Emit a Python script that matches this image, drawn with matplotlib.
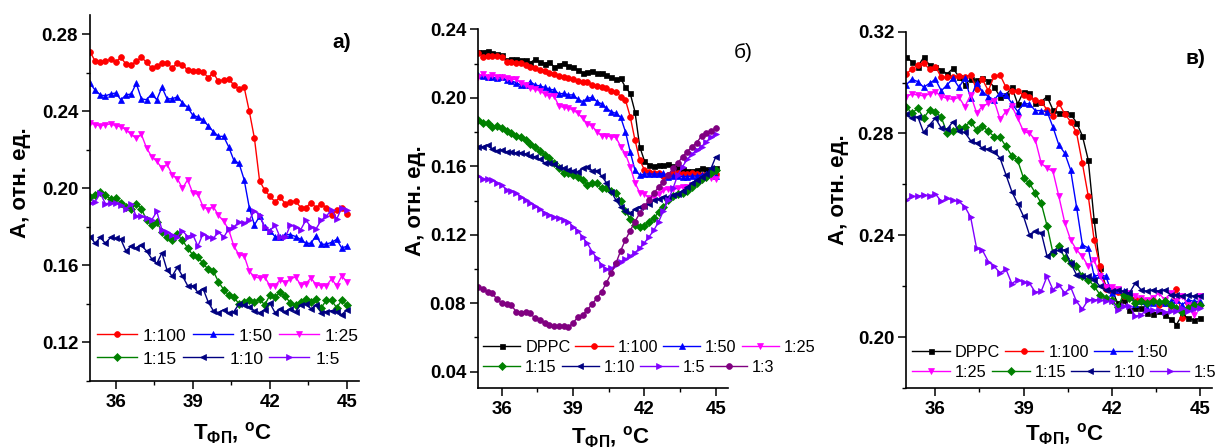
import matplotlib
matplotlib.use('Agg')
import matplotlib.pyplot as plt
from matplotlib.ticker import MultipleLocator

plt.rcParams['font.family'] = ['Liberation Sans', 'DejaVu Sans']
plt.rcParams['mathtext.fontset'] = 'custom'
plt.rcParams['mathtext.rm'] = 'Liberation Sans'
plt.rcParams['mathtext.bf'] = 'Liberation Sans:bold'
plt.rcParams['mathtext.it'] = 'Liberation Sans:italic'

# ---------------- data ----------------
T = [35.0, 35.2, 35.4, 35.6, 35.8, 36.0, 36.2, 36.4, 36.6, 36.8,
     37.0, 37.2, 37.4, 37.6, 37.8, 38.0, 38.2, 38.4, 38.6, 38.8,
     39.0, 39.2, 39.4, 39.6, 39.8, 40.0, 40.2, 40.4, 40.6, 40.8,
     41.0, 41.2, 41.4, 41.6, 41.8, 42.0, 42.2, 42.4, 42.6, 42.8,
     43.0, 43.2, 43.4, 43.6, 43.8, 44.0, 44.2, 44.4, 44.6, 44.8, 45.0]

x_ticks = [36, 39, 42, 45]

# panel a)
a_100 = [0.271, 0.266, 0.2655, 0.266, 0.267, 0.2655, 0.268, 0.2645, 0.264, 0.266,
         0.268, 0.2655, 0.2625, 0.2635, 0.265, 0.265, 0.2625, 0.265, 0.264, 0.2615,
         0.261, 0.261, 0.2605, 0.2575, 0.260, 0.2555, 0.2565, 0.257, 0.2535, 0.2515,
         0.2525, 0.240, 0.226, 0.204, 0.199, 0.196, 0.193, 0.1955, 0.192, 0.193,
         0.1935, 0.190, 0.190, 0.1925, 0.190, 0.192, 0.190, 0.186, 0.189, 0.190, 0.1865]
a_50 = [0.2545, 0.251, 0.2485, 0.248, 0.249, 0.2495, 0.246, 0.2485, 0.249, 0.2545,
        0.2465, 0.246, 0.249, 0.246, 0.2525, 0.2465, 0.2465, 0.2475, 0.2445, 0.242,
        0.238, 0.237, 0.2355, 0.2325, 0.2295, 0.227, 0.227, 0.2215, 0.2145, 0.213,
        0.2045, 0.190, 0.181, 0.1855, 0.180, 0.178, 0.175, 0.1745, 0.176, 0.176,
        0.175, 0.1735, 0.1715, 0.1715, 0.1755, 0.171, 0.171, 0.172, 0.1735, 0.169, 0.170]
a_25 = [0.234, 0.233, 0.2325, 0.233, 0.2335, 0.2325, 0.232, 0.2305, 0.228, 0.226,
        0.228, 0.221, 0.2165, 0.214, 0.2105, 0.2125, 0.207, 0.205, 0.200, 0.2045,
        0.1975, 0.197, 0.1905, 0.189, 0.1905, 0.186, 0.183, 0.1785, 0.170, 0.1655,
        0.165, 0.157, 0.154, 0.1535, 0.154, 0.1495, 0.1495, 0.1525, 0.151, 0.153,
        0.154, 0.150, 0.1505, 0.1535, 0.150, 0.1495, 0.1495, 0.153, 0.1495, 0.1545, 0.1515]
a_15 = [0.1955, 0.1965, 0.198, 0.1965, 0.1945, 0.195, 0.1925, 0.1905, 0.1895, 0.192,
        0.1895, 0.1835, 0.181, 0.1825, 0.1775, 0.175, 0.173, 0.1765, 0.173, 0.169,
        0.1655, 0.1645, 0.161, 0.158, 0.157, 0.1515, 0.1475, 0.1445, 0.1435, 0.140,
        0.141, 0.142, 0.141, 0.1425, 0.1395, 0.1445, 0.1435, 0.146, 0.144, 0.1405,
        0.1395, 0.141, 0.1425, 0.141, 0.1425, 0.138, 0.142, 0.142, 0.138, 0.142, 0.1395]
a_10 = [0.175, 0.1715, 0.1745, 0.1715, 0.1745, 0.174, 0.1735, 0.1675, 0.170, 0.169,
        0.1705, 0.1675, 0.1635, 0.161, 0.1665, 0.1575, 0.1545, 0.159, 0.1545, 0.1495,
        0.1495, 0.146, 0.148, 0.141, 0.1365, 0.1355, 0.137, 0.1355, 0.136, 0.140,
        0.1395, 0.1385, 0.1365, 0.1355, 0.137, 0.1405, 0.1355, 0.1375, 0.136, 0.1375,
        0.136, 0.1395, 0.140, 0.1375, 0.1395, 0.1355, 0.136, 0.1365, 0.136, 0.1345, 0.137]
a_5 = [0.1925, 0.193, 0.1975, 0.192, 0.1925, 0.1925, 0.1915, 0.1895, 0.192, 0.1855,
       0.1855, 0.1845, 0.1835, 0.188, 0.1785, 0.1775, 0.176, 0.175, 0.178, 0.175,
       0.176, 0.170, 0.1765, 0.1745, 0.174, 0.1775, 0.1745, 0.179, 0.180, 0.1825,
       0.182, 0.1835, 0.1885, 0.186, 0.180, 0.178, 0.181, 0.1745, 0.1745, 0.181,
       0.180, 0.1785, 0.1835, 0.180, 0.179, 0.1835, 0.1855, 0.189, 0.184, 0.190, 0.189]

# panel б)
b_dppc = [0.227, 0.227, 0.2275, 0.226, 0.2256, 0.225, 0.222, 0.2225, 0.2225, 0.222,
          0.222, 0.2205, 0.2225, 0.221, 0.220, 0.221, 0.218, 0.219, 0.2205, 0.2185,
          0.218, 0.2162, 0.2147, 0.215, 0.2158, 0.2143, 0.2143, 0.2133, 0.212, 0.2108,
          0.2114, 0.2061, 0.2026, 0.1919, 0.1715, 0.1631, 0.1608, 0.1602, 0.1608, 0.1608,
          0.1613, 0.1602, 0.1588, 0.1582, 0.1575, 0.1575, 0.1578, 0.1588, 0.1582, 0.1578, 0.1588]
b_100 = [0.2264, 0.2236, 0.2244, 0.2244, 0.2244, 0.2236, 0.2211, 0.2211, 0.2205, 0.2205,
         0.2192, 0.2182, 0.2172, 0.2162, 0.2159, 0.2147, 0.2139, 0.2127, 0.212, 0.2114,
         0.2108, 0.210, 0.2094, 0.2094, 0.2075, 0.2069, 0.2061, 0.2055, 0.2042, 0.2036,
         0.2007, 0.1987, 0.189, 0.1754, 0.1637, 0.1578, 0.1569, 0.1563, 0.1559, 0.1543,
         0.1549, 0.1559, 0.1559, 0.1555, 0.1555, 0.1559, 0.1555, 0.1549, 0.1549, 0.1549, 0.1555]
b_50 = [0.2133, 0.2127, 0.212, 0.212, 0.2114, 0.212, 0.2104, 0.210, 0.2088, 0.2075,
        0.2075, 0.2094, 0.2075, 0.2069, 0.2061, 0.205, 0.2046, 0.2022, 0.2026, 0.2017,
        0.2017, 0.1991, 0.1978, 0.1997, 0.2003, 0.1978, 0.1964, 0.1939, 0.1919, 0.1909,
        0.1886, 0.1802, 0.1685, 0.1578, 0.1549, 0.1555, 0.1555, 0.1555, 0.1555, 0.1559,
        0.154, 0.1543, 0.1543, 0.154, 0.154, 0.1543, 0.1543, 0.1549, 0.1555, 0.1549, 0.1543]
b_25 = [0.2124, 0.2139, 0.2124, 0.2133, 0.2124, 0.2124, 0.2114, 0.2108, 0.2108, 0.2088,
        0.2075, 0.2055, 0.205, 0.2042, 0.2022, 0.2011, 0.2011, 0.1952, 0.1944, 0.1939,
        0.1929, 0.1909, 0.188, 0.1847, 0.1835, 0.1802, 0.1777, 0.1777, 0.1773, 0.1769,
        0.1715, 0.1672, 0.1598, 0.1504, 0.1446, 0.1438, 0.1413, 0.1419, 0.1438, 0.1462,
        0.1465, 0.1465, 0.1471, 0.1477, 0.1481, 0.1491, 0.1504, 0.152, 0.153, 0.153, 0.1524]
b_15 = [0.187, 0.1855, 0.1855, 0.1831, 0.1835, 0.1822, 0.1808, 0.1796, 0.1777, 0.1769,
        0.1754, 0.173, 0.1715, 0.1691, 0.1666, 0.1647, 0.1617, 0.1588, 0.1563, 0.1559,
        0.1549, 0.154, 0.152, 0.1491, 0.150, 0.1504, 0.1471, 0.1471, 0.1458, 0.1446,
        0.140, 0.1341, 0.129, 0.1257, 0.1248, 0.1251, 0.1277, 0.1296, 0.1335, 0.1364,
        0.1403, 0.1427, 0.1438, 0.1442, 0.1458, 0.1481, 0.1504, 0.1524, 0.154, 0.1563, 0.1578]
b_10 = [0.1715, 0.1715, 0.1724, 0.1699, 0.1691, 0.1695, 0.1685, 0.1685, 0.1676, 0.168,
        0.1672, 0.166, 0.1656, 0.1641, 0.1621, 0.1617, 0.1613, 0.1594, 0.1588, 0.1578,
        0.1575, 0.1569, 0.1588, 0.1598, 0.1575, 0.1575, 0.1543, 0.1504, 0.1452, 0.1403,
        0.1364, 0.1341, 0.1325, 0.1349, 0.1364, 0.1368, 0.138, 0.1403, 0.1407, 0.1423,
        0.1419, 0.1432, 0.1438, 0.1458, 0.1477, 0.1504, 0.152, 0.154, 0.1555, 0.1588, 0.1656]
b_5 = [0.1543, 0.1524, 0.1524, 0.152, 0.1504, 0.1491, 0.1462, 0.1458, 0.1442, 0.1423,
       0.1403, 0.1388, 0.1368, 0.1349, 0.1329, 0.1316, 0.1306, 0.1296, 0.1286, 0.1277,
       0.1248, 0.1224, 0.1185, 0.115, 0.1101, 0.1062, 0.1023, 0.0998, 0.1004, 0.1023,
       0.1043, 0.1057, 0.1076, 0.1096, 0.1121, 0.1154, 0.1189, 0.1228, 0.1277, 0.1341,
       0.1403, 0.1471, 0.1549, 0.1598, 0.1641, 0.1672, 0.1695, 0.1715, 0.1744, 0.1769, 0.1789]
b_3 = [0.0897, 0.0881, 0.0868, 0.0858, 0.0823, 0.080, 0.0796, 0.079, 0.0751, 0.0745,
       0.0751, 0.0741, 0.0712, 0.0702, 0.0687, 0.0673, 0.0667, 0.0667, 0.0667, 0.0659,
       0.0687, 0.0718, 0.0731, 0.0761, 0.0796, 0.0829, 0.0868, 0.092, 0.0975, 0.1033,
       0.1107, 0.117, 0.1224, 0.1277, 0.1325, 0.1368, 0.1403, 0.1442, 0.1481, 0.151,
       0.1549, 0.1588, 0.1617, 0.1656, 0.1685, 0.1715, 0.1738, 0.1777, 0.1793, 0.1808, 0.1822]

# panel в)
c_dppc = [0.3102, 0.3082, 0.3063, 0.3099, 0.3069, 0.3063, 0.305, 0.3034, 0.3056, 0.3023,
          0.2991, 0.3013, 0.301, 0.3017, 0.3008, 0.2982, 0.2945, 0.2951, 0.2982, 0.2916,
          0.2965, 0.2961, 0.2919, 0.2925, 0.2945, 0.2893, 0.288, 0.2882, 0.2877, 0.2843,
          0.2791, 0.2696, 0.2461, 0.2271, 0.220, 0.2186, 0.2134, 0.2147, 0.2105, 0.2114,
          0.2114, 0.2095, 0.2092, 0.2101, 0.2088, 0.2071, 0.2049, 0.2088, 0.2075, 0.2066, 0.2075]
c_100 = [0.3034, 0.3052, 0.3069, 0.3078, 0.3052, 0.3063, 0.3021, 0.3021, 0.3023, 0.3026,
         0.3021, 0.303, 0.2974, 0.3013, 0.2968, 0.3026, 0.303, 0.2982, 0.2968, 0.2968,
         0.2951, 0.2942, 0.2932, 0.2925, 0.2893, 0.2869, 0.2919, 0.2877, 0.2847, 0.2804,
         0.2683, 0.2555, 0.2382, 0.2278, 0.2189, 0.218, 0.2176, 0.2163, 0.216, 0.215,
         0.2147, 0.214, 0.2144, 0.2127, 0.2134, 0.2121, 0.2189, 0.2075, 0.2134, 0.2131, 0.2127]
c_50 = [0.2991, 0.3013, 0.3004, 0.2982, 0.2997, 0.3013, 0.2968, 0.2991, 0.3017, 0.2982,
        0.3017, 0.2938, 0.2999, 0.2965, 0.2945, 0.2932, 0.2961, 0.2951, 0.2919, 0.2886,
        0.2919, 0.2916, 0.289, 0.289, 0.2886, 0.2825, 0.2755, 0.2723, 0.2657, 0.2513,
        0.2363, 0.235, 0.2239, 0.2245, 0.2239, 0.2173, 0.2184, 0.218, 0.2173, 0.2131,
        0.214, 0.2114, 0.2134, 0.214, 0.2134, 0.214, 0.2147, 0.2127, 0.2147, 0.214, 0.214]
c_25 = [0.2945, 0.2955, 0.2951, 0.2948, 0.2955, 0.2965, 0.2945, 0.2938, 0.2934, 0.2942,
        0.2906, 0.2951, 0.2882, 0.2906, 0.2919, 0.2929, 0.2856, 0.2886, 0.2908, 0.286,
        0.2808, 0.2801, 0.2775, 0.2683, 0.2664, 0.2651, 0.2553, 0.245, 0.2382, 0.2343,
        0.2317, 0.2278, 0.2304, 0.2239, 0.2197, 0.2197, 0.2189, 0.2173, 0.2173, 0.216,
        0.2154, 0.2147, 0.2154, 0.2173, 0.2147, 0.2173, 0.214, 0.216, 0.2127, 0.2088, 0.216]
c_15 = [0.2906, 0.288, 0.2899, 0.286, 0.2893, 0.2886, 0.2864, 0.2801, 0.2811, 0.282,
        0.2827, 0.2847, 0.2814, 0.283, 0.2808, 0.2788, 0.2785, 0.2749, 0.2712, 0.2694,
        0.2624, 0.2605, 0.2566, 0.2526, 0.2437, 0.233, 0.2359, 0.2311, 0.2291, 0.2278,
        0.2239, 0.2226, 0.220, 0.2167, 0.2154, 0.2147, 0.2118, 0.2167, 0.2154, 0.2134,
        0.214, 0.2134, 0.214, 0.2137, 0.214, 0.2127, 0.2114, 0.2097, 0.2114, 0.2127, 0.2127]
c_10 = [0.2877, 0.286, 0.2866, 0.2804, 0.2834, 0.286, 0.2821, 0.2817, 0.2847, 0.2808,
        0.2804, 0.2772, 0.2762, 0.2742, 0.2738, 0.2729, 0.2703, 0.2638, 0.2572, 0.2524,
        0.2474, 0.2402, 0.2415, 0.2411, 0.2317, 0.2337, 0.2341, 0.2343, 0.2291, 0.2245,
        0.2239, 0.2239, 0.2226, 0.220, 0.2186, 0.218, 0.2186, 0.218, 0.2173, 0.2212,
        0.2186, 0.218, 0.2186, 0.218, 0.2186, 0.2167, 0.2167, 0.216, 0.2167, 0.216, 0.2163]
c_5 = [0.2537, 0.2553, 0.2553, 0.2559, 0.2555, 0.2563, 0.2533, 0.2546, 0.2537, 0.2533,
       0.2513, 0.2471, 0.235, 0.2341, 0.2297, 0.2278, 0.2252, 0.2267, 0.221, 0.2226,
       0.2215, 0.2212, 0.2176, 0.218, 0.2239, 0.2186, 0.2206, 0.2173, 0.2197, 0.214,
       0.211, 0.2147, 0.2147, 0.2147, 0.214, 0.214, 0.2108, 0.2121, 0.2124, 0.2082,
       0.2088, 0.2108, 0.2105, 0.2105, 0.2097, 0.2101, 0.2101, 0.2114, 0.2101, 0.2111, 0.2114]

panel_a_series = [('1:100', a_100), ('1:50', a_50), ('1:25', a_25),
                  ('1:15', a_15), ('1:10', a_10), ('1:5', a_5)]
panel_b_series = [('DPPC', b_dppc), ('1:100', b_100), ('1:50', b_50), ('1:25', b_25),
                  ('1:15', b_15), ('1:10', b_10), ('1:5', b_5), ('1:3', b_3)]
panel_c_series = [('DPPC', c_dppc), ('1:100', c_100), ('1:50', c_50), ('1:25', c_25),
                  ('1:15', c_15), ('1:10', c_10), ('1:5', c_5)]

# ---------------- styles ----------------
STYLE = {
    'DPPC': ('#000000', 's', 3.6),
    '1:100': ('#FF0000', 'o', 4.2),
    '1:50': ('#0000FF', '^', 4.6),
    '1:25': ('#FF00FF', 'v', 4.6),
    '1:15': ('#008000', 'D', 3.6),
    '1:10': ('#000080', '<', 4.6),
    '1:5': ('#8000FF', '>', 4.6),
    '1:3': ('#800080', 'o', 4.2),
}

W, H = 1220, 448
fig = plt.figure(figsize=(W / 100, H / 100), dpi=100)


def add_axes_px(l, t, r, b):
    return fig.add_axes([l / W, 1 - b / H, (r - l) / W, (b - t) / H])


def style_axes(ax, xlim, ylim, yticks):
    ax.set_xlim(*xlim)
    ax.set_ylim(*ylim)
    for s in ('top', 'right'):
        ax.spines[s].set_visible(False)
    for s in ('left', 'bottom'):
        ax.spines[s].set_linewidth(1.2)
    ax.set_xticks(x_ticks, [str(v) for v in x_ticks], fontsize=13.5, fontweight='bold')
    ax.set_yticks(yticks, ['%.2f' % v for v in yticks], fontsize=13.5, fontweight='bold')
    ax.xaxis.set_minor_locator(MultipleLocator(1.5))
    ax.yaxis.set_minor_locator(MultipleLocator(0.02))
    ax.tick_params(which='major', direction='out', length=5.5, width=1.1)
    ax.tick_params(which='minor', direction='out', length=3, width=1.0)
    ax.tick_params(axis='x', pad=4)
    ax.tick_params(axis='y', pad=3)


def draw(ax, series):
    handles = {}
    for lab, vals in series:
        c, m, ms = STYLE[lab]
        h, = ax.plot(T, vals, color=c, marker=m, markersize=ms, linewidth=1.0,
                     markeredgewidth=0.5, label=lab)
        handles[lab] = h
    return handles


def legend_rows(ax, handles, rows, xs, ys, fs, hl, htp, cs):
    for i, (labs, x, y) in enumerate(zip(rows, xs, ys)):
        leg = ax.legend([handles[l] for l in labs], labs, loc='center left',
                        bbox_to_anchor=(x / W, 1 - y / H), bbox_transform=fig.transFigure,
                        ncol=len(labs), frameon=False, borderpad=0, borderaxespad=0,
                        handlelength=hl, handletextpad=htp, columnspacing=cs,
                        fontsize=fs, numpoints=1)
        if i < len(rows) - 1:
            ax.add_artist(leg)


xlabel = r'T$_{\mathbf{ФП}}$, $^{\mathbf{o}}$C'
ylabel = 'A, отн. ед.'

# ---- panel a ----
axa = add_axes_px(90, 15, 359, 381)
style_axes(axa, (35, 45.47), (0.10, 0.29), [0.12, 0.16, 0.20, 0.24, 0.28])
ha = draw(axa, panel_a_series)
legend_rows(axa, ha, [['1:100', '1:50', '1:25'], ['1:15', '1:10', '1:5']],
            [97, 97], [336, 359], 12.5, 2.3, 0.35, 0.35)

# ---- panel b ----
axb = add_axes_px(478, 29.3, 727.7, 388)
style_axes(axb, (35, 45.5), (0.0305, 0.24), [0.04, 0.08, 0.12, 0.16, 0.20, 0.24])
hb = draw(axb, panel_b_series)
legend_rows(axb, hb, [['DPPC', '1:100', '1:50', '1:25'], ['1:15', '1:10', '1:5', '1:3']],
            [483, 483], [347, 367], 11.7, 2.3, 0.3, 0.3)

# ---- panel c ----
axc = add_axes_px(906, 31.7, 1211.7, 388)
style_axes(axc, (35, 45.4), (0.18, 0.32), [0.20, 0.24, 0.28, 0.32])
hc = draw(axc, panel_c_series)
legend_rows(axc, hc, [['DPPC', '1:100', '1:50'], ['1:25', '1:15', '1:10', '1:5']],
            [912, 912], [352, 372], 11.7, 2.35, 0.3, 0.3)

# axis labels
for ax, yl, xl in [(axa, (-0.260, 0.541), (0.528, -0.108)),
                   (axb, (-0.252, 0.521), (0.529, -0.103)),
                   (axc, (-0.222, 0.556), (0.520, -0.094))]:
    ax.set_ylabel(ylabel, fontsize=16, fontweight='bold')
    ax.yaxis.set_label_coords(*yl)
    ax.yaxis.label.set_va('center')
    ax.set_xlabel(xlabel, fontsize=16, fontweight='bold')
    ax.xaxis.set_label_coords(*xl)

# panel letters
fig.text(342 / W, 1 - 43 / H, 'а)', fontsize=15, fontweight='bold', ha='center', va='center')
fig.text(743 / W, 1 - 52 / H, 'б)', fontsize=15, ha='center', va='center')
fig.text(1195 / W, 1 - 59 / H, 'в)', fontsize=15, fontweight='bold', ha='center', va='center')

fig.savefig('out.png', dpi=100)
